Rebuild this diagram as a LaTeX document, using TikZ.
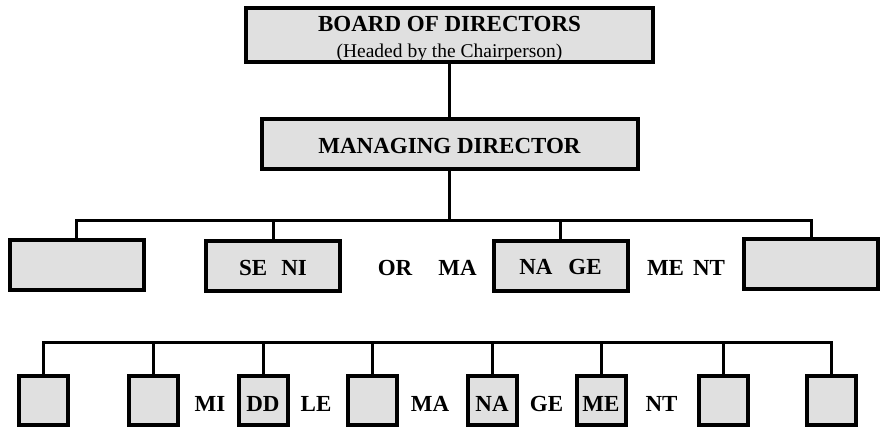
\documentclass[tikz,border=0pt]{standalone}
\usepackage{fontspec}
\setmainfont{Liberation Serif}
\definecolor{boxgray}{RGB}{224,224,224}
\tikzstyle{topbox}=[draw,fill=boxgray,line width=3.3pt,minimum width=407pt,minimum height=54pt,inner sep=0pt]
\tikzstyle{mdbox}=[draw,fill=boxgray,line width=4pt,minimum width=376pt,minimum height=50pt,inner sep=0pt,text height=18.5pt,text depth=0pt,font=\fontsize{23}{27}\selectfont\bfseries]
\tikzstyle{midbox}=[draw,fill=boxgray,line width=4pt,minimum width=134pt,minimum height=50pt,inner sep=0pt,text height=18pt,text depth=0pt,font=\fontsize{23}{27}\selectfont\bfseries]
\tikzstyle{lowbox}=[draw,fill=boxgray,line width=4pt,minimum size=49pt,inner sep=0pt,text height=21pt,text depth=0pt,font=\fontsize{23}{27}\selectfont\bfseries]
\tikzstyle{word}=[anchor=base,inner sep=0pt,font=\fontsize{23}{27}\selectfont\bfseries]
\tikzstyle{link}=[line width=3pt]

\begin{document}
\begin{tikzpicture}[x=1pt,y=-1pt]
    \useasboundingbox (0,0) rectangle (881,428);
    \node[topbox] (board) at (449.5,35) {};
    \node[word] (boardt) at (449.5,32) {BOARD OF DIRECTORS};
    \node[word,font=\fontsize{19.5}{23}\selectfont] (boards) at (449.5,58) {(Headed by the Chairperson)};
    \node[mdbox] (md) at (449.5,144) {MANAGING DIRECTOR};

    \node[midbox] (m1) at (76.5,265) {};
    \node[midbox] (m2) at (273,266) {SE\hspace{14pt}NI};
    \node[midbox] (m3) at (560.5,265.5) {NA\hspace{16pt}GE};
    \node[midbox] (m4) at (811,264) {};
    \node[word] (w1) at (395,275) {OR};
    \node[word] (w2) at (457.5,275) {MA};
    \node[word] (w3) at (686,275) {ME\hspace{9pt}NT};

    \foreach \n/\x/\t in {l1/43/,l2/153/,l3/263/DD,l4/372/,l5/492/NA,l6/601/ME,l7/723/,l8/831/}
    \node[lowbox] (\n) at (\x,400.5) {\t};
    \foreach \n/\x/\t in {v1/210/MI,v2/316/LE,v3/430/MA,v4/546.5/GE,v5/661.5/NT}
    \node[word] (\n) at (\x,411) {\t};

    \coordinate (bus2) at (449.5,220);
    \coordinate (bus3) at (437,342);
    \draw[link] (board) -- (md);
    \draw[link] (md) -- (bus2);
    \draw[link] (m1.north) |- (bus2) -| (m4.north);
    \foreach \n in {m2,m3}
    \draw[link] (\n.north) -- (\n.north |- bus2);
    \draw[link] (l1.north) |- (bus3) -| (l8.north);
    \foreach \n in {l2,l3,l4,l5,l6,l7}
    \draw[link] (\n.north) -- (\n.north |- bus3);
\end{tikzpicture}
\end{document}
